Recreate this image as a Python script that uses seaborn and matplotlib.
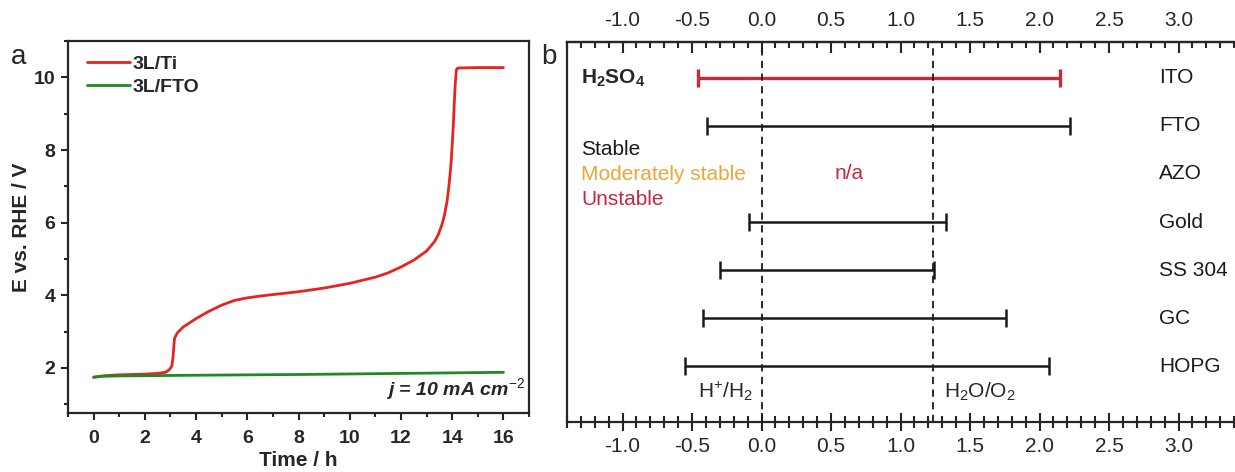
import matplotlib
matplotlib.use("Agg")
import matplotlib.pyplot as plt
from matplotlib.ticker import MultipleLocator
import numpy as np
import pandas as pd
import seaborn as sns

# panel a: potential vs time at j = 10 mA cm-2
time_ti = [0, 0.5, 1, 1.5, 2, 2.5, 2.8, 2.95, 3.05, 3.1, 3.13, 3.16, 3.27, 3.5, 4.0,
           4.5, 5.0, 5.5, 6.0, 6.5, 7.0, 8.0, 9.0, 10.0, 11.0, 11.5, 12.0, 12.5,
           13.0, 13.3, 13.45, 13.6, 13.7, 13.8, 13.87, 13.95, 14.0, 14.05, 14.08,
           14.12, 14.16, 14.2, 14.3, 15.0, 16.0]
e_ti = [1.75, 1.79, 1.81, 1.82, 1.83, 1.85, 1.88, 1.95, 2.05, 2.3, 2.6, 2.82, 2.97,
        3.13, 3.36, 3.56, 3.73, 3.86, 3.93, 3.98, 4.02, 4.1, 4.2, 4.33, 4.5, 4.62,
        4.78, 4.97, 5.22, 5.47, 5.66, 5.95, 6.22, 6.6, 7.0, 7.6, 8.15, 8.8, 9.3,
        9.85, 10.2, 10.25, 10.26, 10.27, 10.27]
time_fto = [0, 0.3, 1, 4, 8, 12, 16]
e_fto = [1.74, 1.77, 1.78, 1.80, 1.82, 1.85, 1.88]

# panel b: stability windows in H2SO4 (V vs RHE)
materials = ["ITO", "FTO", "AZO", "Gold", "SS 304", "GC", "HOPG"]
window_low = [-0.46, -0.39, np.nan, -0.09, -0.30, -0.42, -0.55]
window_high = [2.15, 2.22, np.nan, 1.33, 1.24, 1.76, 2.07]
stability = ["Unstable", "Stable", "Unstable", "Stable", "Stable", "Stable", "Stable"]
redox_lines = [0.0, 1.23]
potential_ticks = [-1.0, -0.5, 0.0, 0.5, 1.0, 1.5, 2.0, 2.5, 3.0]

stab_colors = {"Stable": "#1a1a1a", "Moderately stable": "#E8A838", "Unstable": "#C42A3E"}

sns.set_theme(style="ticks")
plt.rcParams["font.family"] = ["Liberation Sans", "DejaVu Sans"]
plt.rcParams["axes.unicode_minus"] = False
plt.rcParams["mathtext.fontset"] = "custom"
plt.rcParams["mathtext.rm"] = "Liberation Sans"
plt.rcParams["mathtext.bf"] = "Liberation Sans:bold"
plt.rcParams["mathtext.it"] = "Liberation Sans:italic:bold"

fig = plt.figure(figsize=(12.35, 4.72), dpi=100)
ax_a = fig.add_axes([0.0551, 0.125, 0.3733, 0.788])
ax_b = fig.add_axes([0.4591, 0.106, 0.5409, 0.806])

# ---- panel a
df_a = pd.concat([
    pd.DataFrame({"t": time_ti, "E": e_ti, "sample": "3L/Ti"}),
    pd.DataFrame({"t": time_fto, "E": e_fto, "sample": "3L/FTO"}),
])
sns.lineplot(data=df_a, x="t", y="E", hue="sample", sort=False, estimator=None,
             palette={"3L/Ti": "#E52420", "3L/FTO": "#1E8A22"}, linewidth=2, ax=ax_a)
ax_a.set_xlim(-1, 17)
ax_a.set_ylim(0.76, 11)
ax_a.xaxis.set_major_locator(MultipleLocator(2))
ax_a.xaxis.set_minor_locator(MultipleLocator(1))
ax_a.yaxis.set_major_locator(MultipleLocator(2))
ax_a.yaxis.set_minor_locator(MultipleLocator(1))
ax_a.tick_params(which="major", direction="out", length=5, width=1.5, labelsize=14, pad=4)
ax_a.tick_params(which="minor", direction="out", length=3, width=1.5)
ax_a.tick_params(axis="x", which="major", pad=7)
for lab in ax_a.get_xticklabels() + ax_a.get_yticklabels():
    lab.set_fontweight("bold")
for sp in ax_a.spines.values():
    sp.set_visible(True)
    sp.set_linewidth(1.6)
ax_a.set_xlabel("Time / h", fontsize=15, fontweight="bold", labelpad=3)
ax_a.set_ylabel("E vs. RHE / V", fontsize=15, fontweight="bold", labelpad=2)
leg = ax_a.legend(loc="upper left", bbox_to_anchor=(0.003, 1.008), frameon=False,
                  prop={"size": 14, "weight": "bold"}, handlelength=2.2,
                  handletextpad=0.15, labelspacing=0.25)
for line in leg.get_lines():
    line.set_linewidth(2)
ax_a.text(0.99, 0.03, r"j = 10 mA cm$^{\mathit{-2}}$", transform=ax_a.transAxes,
          ha="right", va="bottom", fontsize=14, fontweight="bold", style="italic")

# ---- panel b
rows = np.arange(len(materials))
for i, name in enumerate(materials):
    col = stab_colors[stability[i]]
    lo, hi = window_low[i], window_high[i]
    if np.isnan(lo):
        ax_b.text(0.63, rows[i], "n/a", color=col, fontsize=15, ha="center", va="center")
    else:
        lw = 2.4 if stability[i] == "Unstable" else 1.8
        ax_b.errorbar((lo + hi) / 2, rows[i], xerr=(hi - lo) / 2, fmt="none",
                      ecolor=col, elinewidth=lw, capsize=6.5, capthick=lw)
    ax_b.text(2.86, rows[i], name, fontsize=15, ha="left", va="center", color="#1a1a1a")

for xv in redox_lines:
    ax_b.axvline(xv, color="#1a1a1a", lw=1.3, linestyle=(0, (4, 3)))

ax_b.text(-1.3, 0.0, r"$\mathbf{H_2SO_4}$", fontsize=15, ha="left", va="center")
ax_b.text(-1.3, 1.5, "Stable", fontsize=15, ha="left", va="center", color=stab_colors["Stable"])
ax_b.text(-1.3, 2.02, "Moderately stable", fontsize=15, ha="left", va="center",
          color=stab_colors["Moderately stable"])
ax_b.text(-1.3, 2.54, "Unstable", fontsize=15, ha="left", va="center",
          color=stab_colors["Unstable"])
ax_b.text(-0.06, 6.53, r"H$^{+}$/H$_2$", fontsize=15, ha="right", va="center")
ax_b.text(1.31, 6.53, r"H$_2$O/O$_2$", fontsize=15, ha="left", va="center")

ax_b.set_xlim(-1.4, 3.406)
ax_b.set_ylim(7.16, -0.756)
ax_b.set_yticks([])
ax_b.set_xticks(potential_ticks)
ax_b.xaxis.set_minor_locator(MultipleLocator(0.1))
ax_b.xaxis.set_major_formatter("{x:.1f}")
ax_b.tick_params(axis="x", which="major", direction="inout", length=13, width=1.5,
                 labelsize=15, pad=4)
ax_b.tick_params(axis="x", which="minor", direction="inout", length=9, width=1.5)
ax_b.spines["right"].set_visible(False)
for sp in ["left", "top", "bottom"]:
    ax_b.spines[sp].set_visible(True)
    ax_b.spines[sp].set_linewidth(1.6)

top = ax_b.secondary_xaxis("top")
top.set_xticks(potential_ticks)
top.xaxis.set_minor_locator(MultipleLocator(0.1))
top.xaxis.set_major_formatter("{x:.1f}")
top.tick_params(which="major", direction="in", length=8, width=1.5, labelsize=15, pad=8)
top.tick_params(which="minor", direction="in", length=4.5, width=1.5)
top.spines["top"].set_linewidth(1.6)

fig.text(0.009, 0.88, "a", fontsize=20, va="center")
fig.text(0.438, 0.88, "b", fontsize=20, va="center")

fig.savefig("out.png", dpi=100)
